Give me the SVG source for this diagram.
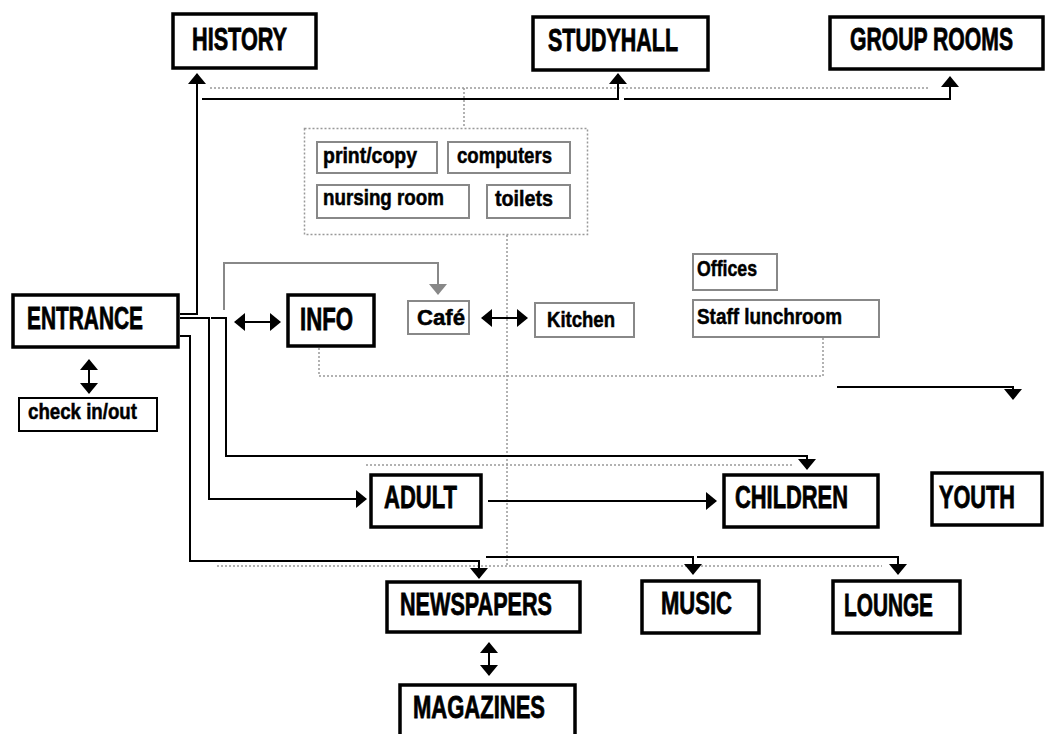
<svg xmlns="http://www.w3.org/2000/svg" width="1047" height="734" viewBox="0 0 1047 734">
<style>
.big{fill:#fff;stroke:#000;stroke-width:3.5}
.sm{fill:#fff;stroke:#888;stroke-width:2}
.blk{fill:#fff;stroke:#000;stroke-width:2}
.cl{fill:none;stroke:#999;stroke-width:1.5;stroke-dasharray:2 2}
text{font-family:"Liberation Sans",Arial,sans-serif;font-weight:bold;fill:#000;stroke:#000}
.tb{font-size:32px;stroke-width:0.8}
.ts{font-size:22px;stroke-width:0.5}
.ln{fill:none;stroke:#000;stroke-width:2}
.ar{marker-end:url(#ah)}
.dbl{marker-start:url(#ah);marker-end:url(#ah)}
.dot{fill:none;stroke:#999;stroke-width:1.5;stroke-dasharray:2 2}
</style>
<defs>
<marker id="ah" viewBox="0 0 11 18" refX="10" refY="9" markerWidth="11" markerHeight="18" markerUnits="userSpaceOnUse" orient="auto-start-reverse"><path d="M0,0 L11,9 L0,18 z" fill="#000"/></marker>
<marker id="ahg" viewBox="0 0 11 18" refX="10" refY="9" markerWidth="11" markerHeight="18" markerUnits="userSpaceOnUse" orient="auto"><path d="M0,0 L11,9 L0,18 z" fill="#888"/></marker>
</defs>
<rect width="1047" height="734" fill="#fff"/>
<g id="connectors">
<path class="dot" d="M210,88 H930"/>
<path class="dot" d="M464,88 V128"/>
<path class="dot" d="M507,235 V565"/>
<path class="dot" d="M319,348 V376 H823 V338"/>
<path class="dot" d="M366,465 H792"/>
<path class="dot" d="M217,566 H882"/>
<path class="ln ar" d="M180,314 H197 V74"/>
<path class="ln ar" d="M202,99 H618 V74"/>
<path class="ln ar" d="M624,99 H950 V77"/>
<path class="ln ar" d="M180,318 H209 V499 H366"/>
<path class="ln ar" d="M211,318 H226 V456 H807 V469"/>
<path class="ln ar" d="M180,336 H190 V561 H479 V578"/>
<path fill="none" stroke="#888" stroke-width="2" marker-end="url(#ahg)" d="M224,310 V263 H438 V294"/>
<path class="ln dbl" d="M235,322 H280"/>
<path class="ln dbl" d="M482,318 H527"/>
<path class="ln dbl" d="M89,360 V393"/>
<path class="ln dbl" d="M489,643 V675"/>
<path class="ln ar" d="M837,387 H1013 V399"/>
<path class="ln ar" d="M488,501 H716"/>
<path class="ln ar" d="M486,557 H693 V574"/>
<path class="ln ar" d="M697,557 H898 V574"/>
</g>
<g id="history"><rect class="big" x="173" y="14" width="143" height="54"/><text class="tb" x="192" y="50" textLength="95" lengthAdjust="spacingAndGlyphs">HISTORY</text></g>
<g id="studyhall"><rect class="big" x="533" y="17" width="175" height="53"/><text class="tb" x="548" y="51" textLength="130" lengthAdjust="spacingAndGlyphs">STUDYHALL</text></g>
<g id="grouprooms"><rect class="big" x="830" y="17" width="213" height="52"/><text class="tb" x="850" y="50" textLength="163" lengthAdjust="spacingAndGlyphs">GROUP ROOMS</text></g>
<g id="services">
<rect class="cl" x="304.5" y="128.5" width="283" height="106"/>
<g id="printcopy"><rect class="sm" x="317" y="142" width="120" height="31"/><text class="ts" x="323" y="163" textLength="94" lengthAdjust="spacingAndGlyphs">print/copy</text></g>
<g id="computers"><rect class="sm" x="448" y="142" width="122" height="31"/><text class="ts" x="457" y="163" textLength="95" lengthAdjust="spacingAndGlyphs">computers</text></g>
<g id="nursing"><rect class="sm" x="317" y="185" width="152" height="33"/><text class="ts" x="323" y="205" textLength="121" lengthAdjust="spacingAndGlyphs">nursing room</text></g>
<g id="toilets"><rect class="sm" x="487" y="185" width="83" height="33"/><text class="ts" x="495" y="206" textLength="58" lengthAdjust="spacingAndGlyphs">toilets</text></g>
</g>
<g id="entrance"><rect class="big" x="13" y="295" width="165" height="52"/><text class="tb" x="27" y="329" textLength="116" lengthAdjust="spacingAndGlyphs">ENTRANCE</text></g>
<g id="checkin"><rect class="blk" x="19" y="398" width="138" height="33"/><text class="ts" x="28" y="419" textLength="109" lengthAdjust="spacingAndGlyphs">check in/out</text></g>
<g id="info"><rect class="big" x="288" y="295" width="86" height="51"/><text class="tb" x="300" y="330" textLength="53" lengthAdjust="spacingAndGlyphs">INFO</text></g>
<g id="cafe"><rect class="sm" x="408" y="301" width="61" height="33"/><text class="ts" x="417" y="325" textLength="48" lengthAdjust="spacingAndGlyphs">Café</text></g>
<g id="kitchen"><rect class="sm" x="535" y="303" width="99" height="34"/><text class="ts" x="547" y="327" textLength="68" lengthAdjust="spacingAndGlyphs">Kitchen</text></g>
<g id="offices"><rect class="sm" x="693" y="254" width="84" height="36"/><text class="ts" x="697" y="276" textLength="60" lengthAdjust="spacingAndGlyphs">Offices</text></g>
<g id="lunchroom"><rect class="sm" x="693" y="300" width="186" height="37"/><text class="ts" x="697" y="324" textLength="145" lengthAdjust="spacingAndGlyphs">Staff lunchroom</text></g>
<g id="adult"><rect class="big" x="371" y="475" width="110" height="52"/><text class="tb" x="384" y="508" textLength="73" lengthAdjust="spacingAndGlyphs">ADULT</text></g>
<g id="children"><rect class="big" x="724" y="475" width="154" height="52"/><text class="tb" x="735" y="508" textLength="113" lengthAdjust="spacingAndGlyphs">CHILDREN</text></g>
<g id="youth"><rect class="big" x="932" y="473" width="110" height="52"/><text class="tb" x="939" y="508" textLength="76" lengthAdjust="spacingAndGlyphs">YOUTH</text></g>
<g id="newspapers"><rect class="big" x="387" y="582" width="193" height="50"/><text class="tb" x="400" y="615" textLength="152" lengthAdjust="spacingAndGlyphs">NEWSPAPERS</text></g>
<g id="music"><rect class="big" x="642" y="581" width="117" height="52"/><text class="tb" x="661" y="614" textLength="71" lengthAdjust="spacingAndGlyphs">MUSIC</text></g>
<g id="lounge"><rect class="big" x="833" y="581" width="127" height="52"/><text class="tb" x="844" y="616" textLength="89" lengthAdjust="spacingAndGlyphs">LOUNGE</text></g>
<g id="magazines"><rect class="big" x="400" y="685" width="175" height="60"/><text class="tb" x="413" y="718" textLength="132" lengthAdjust="spacingAndGlyphs">MAGAZINES</text></g>
</svg>
